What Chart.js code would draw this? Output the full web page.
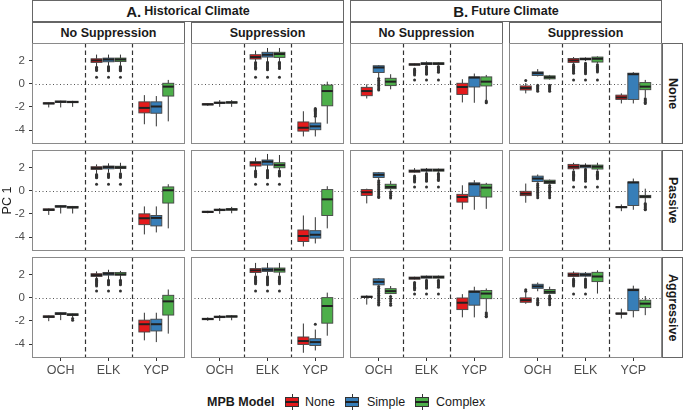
<!DOCTYPE html>
<html><head><meta charset="utf-8">
<script src="https://cdn.jsdelivr.net/npm/chart.js@4"></script>
<style>
body{margin:0;width:685px;height:411px;background:#fff;position:relative;overflow:hidden;font-family:"Liberation Sans",Arial,sans-serif;}
.strip{position:absolute;box-sizing:border-box;border:1px solid #666;background:#fff;display:flex;align-items:center;justify-content:center;font-weight:bold;font-size:12.5px;color:#1a1a1a;white-space:nowrap;}
.vstrip span{writing-mode:vertical-rl;}
.cw{position:absolute;}
.cw canvas{display:block;}
.lg{position:absolute;font-size:12.5px;color:#1a1a1a;line-height:16px;white-space:nowrap;}
.key{position:absolute;width:14px;height:16px;}
.key .wh{position:absolute;left:6.5px;top:0;width:1px;height:16px;background:#333;}
.key .bx{position:absolute;left:0;top:3px;width:14px;height:10px;box-sizing:border-box;border:1px solid #333;}
.key .md{position:absolute;left:0;top:7px;width:14px;height:2px;background:#222;}
</style>
</head><body>
<script>
// ---------- data ----------
const models = ['None', 'Simple', 'Complex'];
const sites = ['OCH', 'ELK', 'YCP'];
const rowLabels = ['None', 'Passive', 'Aggressive'];
const climates = ['Historical Climate', 'Future Climate'];
const climateTags = ['A.', 'B.'];
const suppression = ['No Suppression', 'Suppression'];
const yTicks = [-4, -2, 0, 2];
// each panel: 9 boxes (OCH None/Simple/Complex, ELK ..., YCP ...) as [low, q1, median, q3, high]
// ----- row: None -----
const hNS_None = [[-2.05,-1.75,-1.7,-1.65,-1.62],[-2.05,-1.62,-1.56,-1.5,-1.47],[-2.0,-1.64,-1.58,-1.52,-1.48],
  [1.48,1.83,2.0,2.14,2.5],[1.55,1.88,2.08,2.2,2.5],[1.55,1.9,2.08,2.2,2.5],
  [-3.5,-2.52,-2.09,-1.57,-0.99],[-3.68,-2.55,-1.97,-1.57,-1.07],[-3.25,-1.07,-0.26,0.03,0.32]];
const hNS_None_out = [[],[],[],[1.42,1.35,1.28,1.21,1.14,0.55],[1.48,1.4,1.32,1.24,1.16,1.1,0.55],[1.48,1.4,1.32,1.24,1.16,1.1,0.55],[],[],[]];
const hS_None = [[-1.92,-1.84,-1.78,-1.73,-1.68],[-2.0,-1.7,-1.65,-1.6,-1.42],[-2.0,-1.68,-1.62,-1.56,-1.42],
  [1.91,2.12,2.29,2.49,2.84],[1.95,2.29,2.49,2.7,3.07],[1.95,2.26,2.55,2.7,3.07],
  [-4.55,-4.09,-3.8,-3.3,-2.38],[-4.55,-3.97,-3.68,-3.39,-2.9],[-3.45,-1.91,-0.64,-0.12,0.17]];
const hS_None_out = [[],[],[],[1.82,1.72,1.62,1.52,1.42,1.32,1.25,0.55],[1.85,1.75,1.65,1.55,1.45,1.35,1.25,1.2,0.55],[1.85,1.75,1.65,1.55,1.45,1.35,1.3,0.55],
  [],[-2.8,-2.7,-2.6,-2.5,-2.4,-2.3,-2.2,-2.14],[]];
const fNS_None = [[-1.28,-1.04,-0.64,-0.32,-0.06],[0.55,0.96,1.39,1.54,1.6],[-0.49,-0.17,0.17,0.46,0.81],
  [1.55,1.59,1.65,1.71,1.75],[1.6,1.65,1.72,1.8,1.91],[1.6,1.65,1.72,1.8,1.85],
  [-1.62,-0.93,-0.29,0.03,0.38],[-1.65,-0.29,0.52,0.58,0.87],[-1.42,-0.2,0.17,0.58,0.75]];
const fNS_None_out = [[],[0.45,0.3,0.15,0,-0.15,-0.3,-0.45,-0.55],[],[1.25,1.15,1.05,0.95,0.85,0.75,0.32],[1.48,1.38,1.28,1.18,1.08,0.98,0.88,0.81,0.32],[1.48,1.38,1.28,1.18,1.08,0.98,0.32],
  [],[],[-1.5,-1.58,-1.65]];
const fS_None = [[-0.84,-0.55,-0.38,-0.2,0.05],[0.62,0.7,0.9,1.01,1.25],[0.35,0.41,0.55,0.67,0.75],
  [1.7,1.83,2.0,2.17,2.29],[1.95,2.05,2.12,2.2,2.26],[1.75,1.86,2.14,2.29,2.35],
  [-1.71,-1.36,-1.19,-0.99,-0.84],[-1.71,-1.36,0.81,0.9,0.99],[-1.2,-0.52,-0.26,0.09,0.32]];
const fS_None_out = [[0.26],[-0.15,-0.25,-0.35,-0.45,-0.55,-0.65],[-0.15,-0.25,-0.35,-0.45,-0.55,-0.65],
  [1.62,1.5,1.4,1.3,1.2,1.1,1.0,0.9,0.32],[1.75,1.65,1.55,1.45,1.35,1.25,1.15,1.05,0.95,0.85,0.32],[1.62,1.5,1.4,1.3,1.2,1.1,1.0,0.32],
  [],[],[-1.3,-1.4,-1.5,-1.6,-1.71]];
// ----- row: Passive -----
const hNS_Pass = [[-2.09,-1.71,-1.65,-1.57,-1.53],[-1.97,-1.42,-1.36,-1.3,-1.25],[-1.97,-1.5,-1.43,-1.36,-1.32],
  [1.48,1.83,1.94,2.06,2.26],[1.55,1.88,2.03,2.12,2.35],[1.55,1.91,2.0,2.1,2.4],
  [-3.77,-2.93,-2.38,-2.0,-1.36],[-3.6,-3.04,-2.35,-2.14,-1.36],[-3.25,-1.07,0.03,0.32,0.55]];
const hNS_Pass_out = [[],[],[],[1.4,1.32,1.24,1.16,1.1,0.55],[1.45,1.37,1.29,1.21,1.13,0.55],[1.45,1.37,1.29,1.21,1.13,0.55],[],[],[]];
const hS_Pass = [[-1.95,-1.88,-1.83,-1.78,-1.74],[-2.0,-1.72,-1.66,-1.6,-1.5],[-1.95,-1.68,-1.62,-1.55,-1.4],
  [1.77,2.12,2.4,2.49,2.84],[1.85,2.2,2.49,2.64,3.16],[1.8,1.97,2.2,2.4,3.07],
  [-4.81,-4.38,-3.91,-3.39,-2.14],[-4.55,-4.09,-3.8,-3.45,-2.29],[-3.25,-2.14,-0.75,0.09,0.38]];
const hS_Pass_out = [[],[],[],[1.7,1.6,1.5,1.4,1.3,1.19,0.55],[1.75,1.65,1.55,1.45,1.35,1.25,1.15,1.1,0.55],[1.7,1.6,1.5,1.4,1.3,1.25,0.55],[],[],[]];
const fNS_Pass = [[-1.1,-0.41,-0.14,0.09,0.17],[0.95,1.13,1.36,1.54,1.6],[0.05,0.17,0.32,0.55,0.84],
  [1.55,1.59,1.68,1.77,1.94],[1.6,1.68,1.77,1.86,1.95],[1.6,1.68,1.77,1.86,1.9],
  [-1.62,-0.99,-0.55,-0.32,0.46],[-1.65,-0.49,0.55,0.67,0.9],[-1.57,-0.55,0.26,0.55,0.67]];
const fNS_Pass_out = [[],[0.85,0.7,0.55,0.4,0.25,0.1,-0.05,-0.2,-0.35,-0.5,-0.6],[-0.1,-0.25,-0.4,-0.55,-0.64],
  [1.25,1.15,1.05,0.95,0.85,0.75,0.32],[1.48,1.38,1.28,1.18,1.08,0.98,0.88,0.8,0.32],[1.48,1.38,1.28,1.18,1.08,0.98,0.88,0.32],[],[],[]];
const fS_Pass = [[-1.04,-0.43,-0.26,-0.06,0.61],[0.7,0.78,1.04,1.25,1.39],[0.55,0.61,0.75,0.9,0.95],
  [1.75,1.88,2.06,2.26,2.4],[1.9,1.97,2.12,2.2,2.35],[1.75,1.86,2.06,2.2,2.4],
  [-1.77,-1.47,-1.42,-1.38,-1.19],[-1.65,-1.28,0.7,0.75,1.04],[-1.0,-0.61,-0.52,-0.41,0.17]];
const fS_Pass_out = [[],[0.6,0.45,0.3,0.15,0,-0.15,-0.3,-0.45,-0.61],[0.45,0.3,0.15,0,-0.15,-0.3,-0.45,-0.61],
  [1.62,1.52,1.42,1.32,1.22,1.12,1.02,0.92,0.32],[1.85,1.75,1.65,1.55,1.45,1.35,1.25,1.15,1.05,0.95,0.8,0.32],[1.62,1.52,1.42,1.32,1.22,1.12,1.02,0.32],
  [],[],[-1.1,-1.2,-1.3,-1.4,-1.5,-1.6,-1.65]];
// ----- row: Aggressive -----
const hNS_Aggr = [[-2.03,-1.71,-1.64,-1.57,-1.53],[-1.94,-1.45,-1.38,-1.3,-1.26],[-1.7,-1.54,-1.47,-1.39,-1.35],
  [1.68,1.83,1.94,2.06,2.26],[1.6,1.94,2.06,2.17,2.4],[1.6,1.94,2.0,2.17,2.3],
  [-3.68,-2.96,-2.29,-1.94,-1.3],[-3.83,-2.87,-2.29,-1.86,-1.3],[-3.1,-1.5,-0.32,0.2,0.7]];
const hNS_Aggr_out = [[],[],[-1.8,-1.94],[1.6,1.5,1.4,1.3,1.2,1.1,1.01,0.58],[1.5,1.4,1.3,1.2,1.1,0.58],[1.5,1.4,1.3,1.2,1.1,0.58],[],[],[]];
const hS_Aggr = [[-2.0,-1.9,-1.84,-1.78,-1.7],[-2.0,-1.72,-1.66,-1.6,-1.5],[-1.95,-1.68,-1.62,-1.57,-1.5],
  [1.88,2.17,2.35,2.5,2.99],[1.9,2.26,2.4,2.55,2.99],[1.9,2.2,2.4,2.55,2.99],
  [-4.75,-4.03,-3.74,-3.39,-2.23],[-4.55,-4.12,-3.83,-3.54,-2.75],[-3.28,-2.2,-0.72,0.0,0.43]];
const hS_Aggr_out = [[],[],[],[1.8,1.7,1.6,1.5,1.4,1.3,1.19,0.58],[1.8,1.7,1.6,1.5,1.4,1.3,1.2,1.1,0.58],[1.8,1.7,1.6,1.5,1.4,1.3,1.2,0.58],[],[-2.29],[]];
const fNS_Aggr = [[-0.6,0.02,0.07,0.12,0.2],[1.1,1.1,1.36,1.62,1.68],[0.3,0.35,0.56,0.77,1.0],
  [1.55,1.59,1.68,1.77,1.8],[1.65,1.68,1.77,1.86,1.9],[1.65,1.68,1.77,1.86,1.9],
  [-1.7,-1.03,-0.44,-0.03,0.3],[-1.7,-0.65,0.5,0.58,0.94],[-1.2,-0.09,0.35,0.62,0.79]];
const fNS_Aggr_out = [[],[0.95,0.8,0.65,0.5,0.35,0.2,0.05,-0.1,-0.25,-0.4,-0.55,-0.64],[0.1,-0.1,-0.3,-0.5,-0.65],
  [1.3,1.2,1.1,1.0,0.9,0.8,0.67,0.32],[1.5,1.4,1.3,1.2,1.1,1.0,0.9,0.8,0.32],[1.5,1.4,1.3,1.2,1.1,1.0,0.9,0.32],
  [],[],[-1.3,-1.4,-1.5,-1.6,-1.65]];
const fS_Aggr = [[-0.53,-0.4,-0.22,-0.02,0.45],[0.55,0.8,0.97,1.15,1.3],[0.28,0.35,0.5,0.7,0.94],
  [1.75,1.82,1.97,2.12,2.26],[1.8,1.85,1.97,2.1,2.2],[0.35,1.38,1.82,2.18,2.35],
  [-1.8,-1.42,-1.38,-1.32,-0.95],[-1.7,-1.12,0.65,0.74,1.03],[-1.51,-0.86,-0.52,-0.22,0.14]];
const fS_Aggr_out = [[0.55,0.67],[-0.1,-0.25,-0.4,-0.5,-0.62],[0.15,0,-0.15,-0.3,-0.45,-0.62],
  [1.6,1.5,1.4,1.3,1.2,1.1,1.0,0.32],[1.6,1.5,1.4,1.3,1.2,1.1,1.0,0.9,0.32],[],[],[],[]];

const panelStats = [[hNS_None, hS_None, fNS_None, fS_None],[hNS_Pass, hS_Pass, fNS_Pass, fS_Pass],[hNS_Aggr, hS_Aggr, fNS_Aggr, fS_Aggr]];
const panelOut = [[hNS_None_out, hS_None_out, fNS_None_out, fS_None_out],[hNS_Pass_out, hS_Pass_out, fNS_Pass_out, fS_Pass_out],[hNS_Aggr_out, hS_Aggr_out, fNS_Aggr_out, fS_Aggr_out]];

// ---------- layout / style ----------
const COLORS = ['#E41A1C', '#377EB8', '#4DAF4A'];
const OFF = [-0.25, 0, 0.25], BW = 0.23;
const PL = [32, 191, 350, 509], PT = [43, 150, 257], PW = 153, PH = 101;
const YAXW = 32, XAXH = 24;
Chart.defaults.font.family = '"Liberation Sans", Arial, sans-serif';

function el(cls, css, html) {
  const d = document.createElement('div'); d.className = cls; d.style.cssText = css; if (html !== undefined) d.innerHTML = html;
  document.body.appendChild(d); return d;
}
// strips
climates.forEach((c, i) => {
  const left = PL[i * 2], right = PL[i * 2 + 1] + PW;
  el('strip', `left:${left}px;top:0px;width:${right - left}px;height:22px;`, `<span style="font-size:15px;margin-right:3px">${climateTags[i]}</span><span>${c}</span>`);
  suppression.forEach((s, j) => {
    el('strip', `left:${PL[i * 2 + j]}px;top:22px;width:${PW}px;height:21.5px;`, s);
  });
});
rowLabels.forEach((r, i) => {
  el('strip vstrip', `left:662px;top:${PT[i]}px;width:21px;height:${PH}px;`, `<span>${r}</span>`);
});
// legend
el('lg', 'left:207px;top:394px;font-weight:bold;', 'MPB Model');
const keyLeft = [285, 345, 415], txtLeft = [305, 367, 436];
models.forEach((m, i) => {
  el('key', `left:${keyLeft[i]}px;top:394px;`, `<div class="wh"></div><div class="bx" style="background:${COLORS[i]}"></div><div class="md"></div>`);
  el('lg', `left:${txtLeft[i]}px;top:394px;`, m);
});

const boxPlugin = {
  id: 'boxes',
  beforeDatasetsDraw(chart, args, opts) {
    const { ctx, chartArea: a, scales: { x, y } } = chart;
    ctx.save();
    ctx.beginPath(); ctx.rect(a.left, a.top, a.width, a.height); ctx.clip();
    const y0 = Math.round(y.getPixelForValue(0)) + 0.5;
    ctx.strokeStyle = '#555'; ctx.lineWidth = 1; ctx.setLineDash([1, 2.5]);
    ctx.beginPath(); ctx.moveTo(a.left, y0); ctx.lineTo(a.right, y0); ctx.stroke();
    ctx.strokeStyle = '#333'; ctx.lineWidth = 1.2; ctx.setLineDash([4.5, 3]);
    [1.5, 2.5].forEach(v => {
      const px = Math.round(x.getPixelForValue(v)) + 0.5;
      ctx.beginPath(); ctx.moveTo(px, a.top); ctx.lineTo(px, a.bottom); ctx.stroke();
    });
    ctx.setLineDash([]);
    opts.stats.forEach((s, i) => {
      const site = Math.floor(i / 3), m = i % 3, cx = site + 1 + OFF[m];
      const xl = x.getPixelForValue(cx - BW / 2), xr = x.getPixelForValue(cx + BW / 2), xc = x.getPixelForValue(cx);
      const [lo, q1, md, q3, hi] = s.map(v => y.getPixelForValue(v));
      ctx.strokeStyle = '#333'; ctx.lineWidth = 1;
      ctx.beginPath(); ctx.moveTo(xc, lo); ctx.lineTo(xc, q1); ctx.moveTo(xc, q3); ctx.lineTo(xc, hi); ctx.stroke();
      ctx.fillStyle = COLORS[m]; ctx.fillRect(xl, q3, xr - xl, q1 - q3);
      ctx.strokeStyle = '#444'; ctx.lineWidth = 0.9; ctx.strokeRect(xl, q3, xr - xl, q1 - q3);
      ctx.strokeStyle = '#222'; ctx.lineWidth = 2;
      ctx.beginPath(); ctx.moveTo(xl, md); ctx.lineTo(xr, md); ctx.stroke();
    });
    ctx.restore();
  },
  afterDraw(chart) {
    const { ctx, chartArea: a } = chart;
    ctx.save(); ctx.strokeStyle = '#8a8a8a'; ctx.lineWidth = 1;
    ctx.strokeRect(Math.round(a.left) + 0.5, Math.round(a.top) + 0.5, Math.round(a.width) - 1, Math.round(a.height) - 1);
    ctx.restore();
  }
};

function noPad(s) { s.paddingTop = 0; s.paddingBottom = 0; s.paddingLeft = 0; s.paddingRight = 0; }

for (let r = 0; r < 3; r++) {
  for (let c = 0; c < 4; c++) {
    const showY = c === 0, showX = r === 2;
    const left = showY ? PL[c] - YAXW : PL[c];
    const w = PW + (showY ? YAXW : 0), h = PH + (showX ? XAXH : 0);
    const wrap = el('cw', `left:${left}px;top:${PT[r]}px;width:${w}px;height:${h}px;`);
    const cv = document.createElement('canvas'); cv.width = w; cv.height = h; cv.style.width = w + 'px'; cv.style.height = h + 'px';
    wrap.appendChild(cv);
    const stats = panelStats[r][c], outs = panelOut[r][c];
    const datasets = models.map((m, mi) => {
      const pts = [];
      outs.forEach((arr, i) => { if (i % 3 === mi) arr.forEach(v => pts.push({ x: Math.floor(i / 3) + 1 + OFF[mi], y: v })); });
      return { label: m, data: pts, pointRadius: 1.5, pointBackgroundColor: '#333', pointBorderWidth: 0, pointHoverRadius: 1.5 };
    });
    new Chart(cv, {
      type: 'scatter',
      data: { datasets },
      options: {
        responsive: false, animation: false, events: [],
        layout: { padding: 0, autoPadding: false },
        plugins: { legend: { display: false }, tooltip: { enabled: false }, boxes: { stats } },
        scales: {
          x: {
            type: 'linear', min: 0.4, max: 3.6, display: showX,
            afterBuildTicks: s => { s.ticks = sites.map((_, i) => ({ value: i + 1 })); },
            afterFit: s => { s.height = showX ? XAXH : 0; noPad(s); },
            ticks: { callback: v => sites[v - 1], color: '#4d4d4d', font: { size: 12.5 }, padding: 2, maxRotation: 0, autoSkip: false },
            grid: { display: true, drawOnChartArea: false, drawTicks: true, tickLength: 3, color: '#333' },
            border: { display: false }
          },
          y: {
            type: 'linear', min: -5.2, max: 3.5, display: showY,
            afterBuildTicks: s => { s.ticks = yTicks.map(v => ({ value: v })); },
            afterFit: s => { s.width = showY ? YAXW : 0; noPad(s); },
            ticks: { color: '#4d4d4d', font: { size: 11.5 }, padding: 4 },
            grid: { display: true, drawOnChartArea: false, drawTicks: true, tickLength: 3, color: '#333' },
            border: { display: false },
            title: { display: showY && r === 1, text: 'PC 1', color: '#1a1a1a', font: { size: 12.5 }, padding: { top: 0, bottom: 0 } }
          }
        }
      },
      plugins: [boxPlugin]
    });
  }
}
</script>
</body></html>
